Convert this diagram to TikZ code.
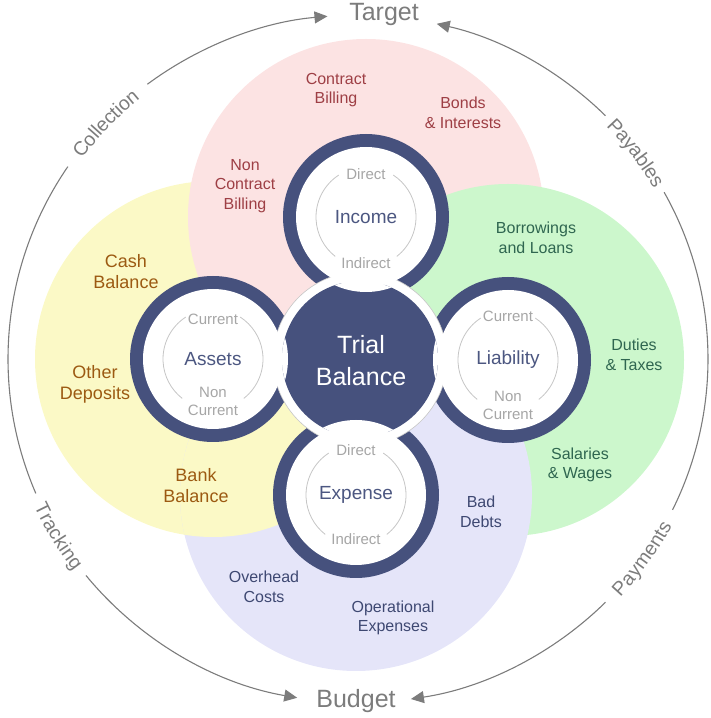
\documentclass[tikz,border=0pt]{standalone}
\usepackage{fontspec}
\setmainfont{Liberation Sans}
\usetikzlibrary{arrows.meta,decorations.text}
\definecolor{pinkP}{HTML}{FCE3E3}
\definecolor{yelP}{HTML}{FBF9C6}
\definecolor{grnP}{HTML}{CCF7CC}
\definecolor{lavP}{HTML}{E5E5F9}
\definecolor{navy}{HTML}{46517D}
\definecolor{pinkT}{HTML}{9E3F45}
\definecolor{yelT}{HTML}{9C5A12}
\definecolor{grnT}{HTML}{2F6650}
\definecolor{lavT}{HTML}{3E4872}
\definecolor{ringT}{HTML}{4C5781}
\definecolor{subT}{HTML}{A6A6A6}
\definecolor{outerC}{HTML}{7C7C7C}
\definecolor{thinC}{HTML}{C6C6C6}
\newcommand\outfont{\fontsize{19.5}{20}\selectfont\color{outerC}}
\begin{document}
\begin{tikzpicture}[x=1pt,y=1pt,
  lbl/.style={align=center,font=\fontsize{16}{19.5}\selectfont,inner sep=0pt},
  biglbl/.style={align=center,font=\fontsize{18}{21}\selectfont,inner sep=0pt},
  ringlbl/.style={font=\fontsize{19}{22}\selectfont,text=ringT,inner sep=0pt},
  sublbl/.style={align=center,font=\fontsize{15}{18}\selectfont,text=subT,inner sep=0pt},
  outerarc/.style={draw=outerC,line width=1.1pt},
  tipped/.style={-{Triangle[length=13pt,width=12pt]}},
  pole/.style={font=\fontsize{25}{27}\selectfont,text=outerC,inner sep=0pt},
  ringdisc/.style={fill=navy},
  thinarc/.style={draw=thinC,line width=0.8pt}
]
\useasboundingbox (0,0) rectangle (711,718);
\coordinate (C) at (358,359);
\coordinate (TB) at (360,359);
\coordinate (IN) at (366,501);
\coordinate (AS) at (213,359);
\coordinate (LI) at (508,358);
\coordinate (EX) at (356,223);

% petals
\fill[yelP] (AS) circle[radius=178];
\fill[pinkP] (IN) circle[radius=178];
\fill[grnP] (LI) circle[radius=176];
\fill[lavP] (EX) circle[radius=176];
\begin{scope}
  \clip (EX) circle[radius=176];
  \fill[yelP] (AS) circle[radius=178];
\end{scope}

% ring discs
\foreach \p in {IN,AS,LI,EX} \fill[ringdisc] (\p) circle[radius=83];

% central
\fill[white,draw=thinC,line width=0.6pt] (TB) circle[radius=87];
\fill[navy] (TB) circle[radius=78];
\begin{scope}
  \clip (TB) circle[radius=78];
  \foreach \p in {IN,AS,LI,EX} \fill[white] (\p) circle[radius=75];
\end{scope}

% interiors
\foreach \p in {IN,AS,LI,EX} {
  \fill[white] (\p) circle[radius=70];
  \draw[thinarc] ([shift={(-52:50)}]\p) arc[start angle=-52,end angle=57,radius=50];
  \draw[thinarc] ([shift={(123:50)}]\p) arc[start angle=123,end angle=232,radius=50];
}

% centre labels
\node[align=center,text=white,font=\fontsize{25}{32}\selectfont,inner sep=0pt] (tb) at (361,357) {Trial\\Balance};
\node[ringlbl] (inc) at (IN) {Income};
\node[sublbl] (incD) at ([yshift=43pt]IN) {Direct};
\node[sublbl] (incI) at ([yshift=-46pt]IN) {Indirect};
\node[ringlbl] (ast) at (AS) {Assets};
\node[sublbl] (astC) at ([yshift=40pt]AS) {Current};
\node[sublbl] (astN) at ([yshift=-42pt]AS) {Non\\Current};
\node[ringlbl] (lia) at (LI) {Liability};
\node[sublbl] (liaC) at ([yshift=44pt]LI) {Current};
\node[sublbl] (liaN) at ([yshift=-45pt]LI) {Non\\Current};
\node[ringlbl] (exp) at (EX) {Expense};
\node[sublbl] (expD) at ([yshift=45pt]EX) {Direct};
\node[sublbl] (expI) at ([yshift=-44pt]EX) {Indirect};

% petal labels
\node[lbl,text=pinkT] (cb) at (336,628) {Contract\\Billing};
\node[lbl,text=pinkT] (bi) at (463,605) {Bonds\\\& Interests};
\node[lbl,text=pinkT] (ncb) at (245,532) {Non\\Contract\\Billing};
\node[biglbl,text=yelT] (cash) at (126,446) {Cash\\Balance};
\node[biglbl,text=yelT] (od) at (95,334) {Other\\Deposits};
\node[biglbl,text=yelT] (bb) at (196,232) {Bank\\Balance};
\node[lbl,text=grnT] (bl) at (536,480) {Borrowings\\and Loans};
\node[lbl,text=grnT] (dt) at (634,363) {Duties\\\& Taxes};
\node[lbl,text=grnT] (sw) at (580,253) {Salaries\\\& Wages};
\node[lbl,text=lavT] (bd) at (481,206) {Bad\\Debts};
\node[lbl,text=lavT] (oc) at (264,131) {Overhead\\Costs};
\node[lbl,text=lavT] (oe) at (393,100) {Operational\\Expenses};

% poles
\node[pole] (target) at (384,703) {Target};
\node[pole] (budget) at (356,17) {Budget};

% outer arcs
\coordinate (a1) at ([shift={(127:350 and 344)}]C);
\coordinate (a2) at ([shift={(45:350 and 344)}]C);
\coordinate (a3) at ([shift={(146:350 and 344)}]C);
\coordinate (a4) at ([shift={(219:350 and 344)}]C);
\coordinate (a5) at ([shift={(-45:350 and 344)}]C);
\coordinate (a6) at ([shift={(-26:350 and 344)}]C);
\draw[outerarc,tipped] (a1) arc[start angle=127,end angle=95,x radius=350,y radius=344];
\draw[outerarc,tipped] (a2) arc[start angle=45,end angle=77,x radius=350,y radius=344];
\draw[outerarc] (a3) arc[start angle=146,end angle=203,x radius=350,y radius=344];
\draw[outerarc,tipped] (a4) arc[start angle=219,end angle=260,x radius=350,y radius=344];
\draw[outerarc,tipped] (a5) arc[start angle=-45,end angle=-81.3,x radius=350,y radius=344];
\draw[outerarc] (a6) arc[start angle=-26,end angle=29,x radius=350,y radius=344];

% arc labels
\path[decorate,decoration={text along path,text align=center,raise=-7pt,text={|\outfont|Collection}}]
  ([shift={(150:350 and 344)}]C) arc[start angle=150,end angle=123,x radius=350,y radius=344];
\path[decorate,decoration={text along path,text align=center,raise=-7pt,text={|\outfont|Payables}}]
  ([shift={(51:350 and 344)}]C) arc[start angle=51,end angle=23,x radius=350,y radius=344];
\path[decorate,decoration={text along path,text align=center,raise=-7pt,text={|\outfont|Tracking}}]
  ([shift={(197:350 and 344)}]C) arc[start angle=197,end angle=225,x radius=350,y radius=344];
\path[decorate,decoration={text along path,text align=center,raise=-7pt,text={|\outfont|Payments}}]
  ([shift={(-50:350 and 344)}]C) arc[start angle=-50,end angle=-21,x radius=350,y radius=344];
\end{tikzpicture}
\end{document}
